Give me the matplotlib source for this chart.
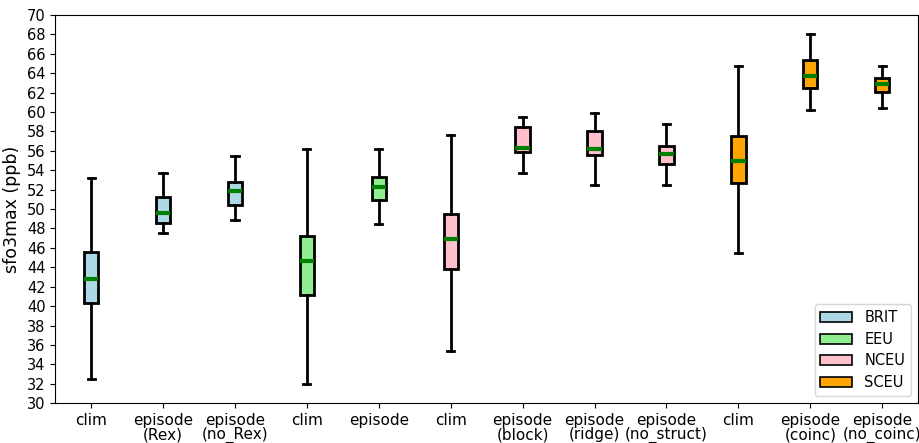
import matplotlib
matplotlib.use("Agg")
import matplotlib.pyplot as plt
from matplotlib.patches import Patch

# ---------------------------  Data  --------------------------- #

labels = ["clim", "episode\n(Rex)", "episode\n(no_Rex)",
          "clim", "episode",
          "clim", "episode\n(block)", "episode\n(ridge)", "episode\n(no_struct)",
          "clim", "episode\n(coinc)", "episode\n(no_coinc)"]
regions = ["BRIT", "BRIT", "BRIT",
           "EEU", "EEU",
           "NCEU", "NCEU", "NCEU", "NCEU",
           "SCEU", "SCEU", "SCEU"]

whislo = [32.5, 47.55, 48.9, 32.0, 48.45, 35.35, 53.75, 52.5, 52.45, 45.5, 60.25, 60.45]
q1 = [40.3, 48.6, 50.4, 41.15, 50.9, 43.85, 55.85, 55.6, 54.65, 52.65, 62.5, 62.1]
med = [42.75, 49.55, 51.9, 44.65, 52.25, 46.95, 56.25, 56.2, 55.7, 54.95, 63.7, 62.85]
q3 = [45.55, 51.2, 52.8, 47.2, 53.3, 49.5, 58.5, 58.05, 56.5, 57.5, 65.35, 63.5]
whishi = [53.25, 53.75, 55.5, 56.15, 56.15, 57.65, 59.45, 59.95, 58.8, 64.8, 68.0, 64.7]

region_colors = {"BRIT": "lightblue", "EEU": "lightgreen",
                 "NCEU": "pink", "SCEU": "orange"}

# ---------------------------  Plot  --------------------------- #

stats = []
for i in range(len(labels)):
    stats.append({"whislo": whislo[i], "q1": q1[i], "med": med[i],
                  "q3": q3[i], "whishi": whishi[i], "fliers": []})

fig = plt.figure(figsize=(9.2, 4.43), dpi=100)
ax = fig.add_axes([0.06, 0.09, 0.938, 0.876])

bp = ax.bxp(stats, positions=range(1, len(labels) + 1), widths=0.2,
            patch_artist=True, showfliers=False,
            boxprops=dict(linewidth=2, edgecolor="black"),
            whiskerprops=dict(linewidth=2, color="black"),
            capprops=dict(linewidth=2, color="black"),
            medianprops=dict(linewidth=3, color="green"))

for box, reg in zip(bp["boxes"], regions):
    box.set_facecolor(region_colors[reg])

ax.set_xticks(range(1, len(labels) + 1))
ax.set_xticklabels(labels, fontsize=11, linespacing=0.95)
ax.set_xlim(0.5, len(labels) + 0.5)
ax.set_ylim(30, 70)
ax.set_yticks(range(30, 71, 2))
ax.tick_params(axis="y", labelsize=10.5)
ax.set_ylabel("sfo3max (ppb)", fontsize=12.5)

handles = [Patch(facecolor=c, edgecolor="black", linewidth=1.2, label=r)
           for r, c in region_colors.items()]
ax.legend(handles=handles, loc="lower right", fontsize=10.5,
          handlelength=2.2, labelspacing=0.45)

fig.savefig("out.png", dpi=100)
